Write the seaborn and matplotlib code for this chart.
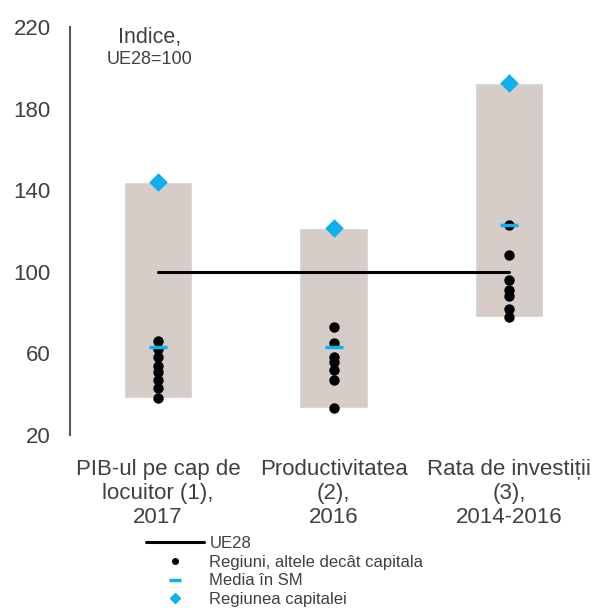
import numpy as np
import pandas as pd
import seaborn as sns
import matplotlib.pyplot as plt
from matplotlib.lines import Line2D

categories = ["PIB-ul pe cap de\nlocuitor (1),\n2017",
              "Productivitatea\n(2),\n2016",
              "Rata de investiții\n(3),\n2014-2016"]
range_low = [38, 33, 78]
range_high = [144, 121.5, 192.5]
capital = [144, 121.5, 192.5]
sm_mean = [63, 63, 123]
regions_pib = [66, 62, 58, 54, 51, 47, 43, 38]
regions_prod = [73, 65, 58, 56, 52, 47, 33]
regions_inv = [123, 108, 96, 91, 88, 82, 78]
eu28 = [100, 100, 100]

text_col = "#404040"
bar_col = "#d6cdc9"
blue = "#0fb0ee"

sns.set_theme(style="white")
plt.rcParams["font.family"] = ["Liberation Sans", "DejaVu Sans"]

fig = plt.figure(figsize=(5.97, 6.14), dpi=100)
ax = fig.add_axes([70 / 597, 179 / 614, 527 / 597, 408 / 614])

pos = np.arange(len(categories))
ax.bar(pos, np.array(range_high) - np.array(range_low), bottom=range_low,
       width=0.39, color=bar_col, zorder=1)

ax.plot(pos, eu28, color="black", lw=2.2, zorder=2)

dots = pd.DataFrame({
    "cat": [0] * len(regions_pib) + [1] * len(regions_prod) + [2] * len(regions_inv),
    "val": regions_pib + regions_prod + regions_inv,
})
sns.stripplot(data=dots, x="cat", y="val", native_scale=True, jitter=False,
              color="black", size=7.5, linewidth=0, ax=ax, zorder=3)

sns.scatterplot(x=pos, y=sm_mean, marker="_", s=180, color=blue,
                linewidth=2.5, ax=ax, zorder=4)
sns.scatterplot(x=pos, y=capital, marker="D", s=90, color=blue,
                linewidth=0, ax=ax, zorder=5)

ax.set_xlim(-0.5, 2.5)
ax.set_ylim(20, 220)
ax.set_yticks([20, 60, 100, 140, 180, 220])
ax.set_xticks(pos)
ax.set_xticklabels(categories, fontsize=16, color=text_col, linespacing=1.2)
ax.tick_params(axis="y", labelsize=16, labelcolor=text_col, length=0, pad=14)
ax.tick_params(axis="x", length=0, pad=17)
ax.set_xlabel("")
ax.set_ylabel("")
for s in ["top", "right", "bottom"]:
    ax.spines[s].set_visible(False)
ax.spines["left"].set_color("#595959")
ax.spines["left"].set_linewidth(1.5)

fig.text(150 / 597, 1 - 37 / 614, "Indice,", fontsize=15.5, color=text_col,
         ha="center", va="center")
fig.text(150 / 597, 1 - 59 / 614, "UE28=100", fontsize=13, color=text_col,
         ha="center", va="center")

handles = [
    Line2D([], [], color="black", lw=2.2),
    Line2D([], [], color="black", marker="o", ls="", markersize=4),
    Line2D([], [], color=blue, marker="_", ls="", markersize=9, markeredgewidth=2.5),
    Line2D([], [], color=blue, marker="D", ls="", markersize=5),
]
labels = ["UE28", "Regiuni, altele decât capitala", "Media în SM", "Regiunea capitalei"]
fig.legend(handles, labels, loc="upper left", bbox_to_anchor=(146 / 597, 1 - 536 / 614),
           frameon=False, fontsize=12, labelcolor=text_col, handlelength=3.5,
           handletextpad=0.3, labelspacing=0.22, borderpad=0, borderaxespad=0)

fig.savefig("out.png", dpi=100)
